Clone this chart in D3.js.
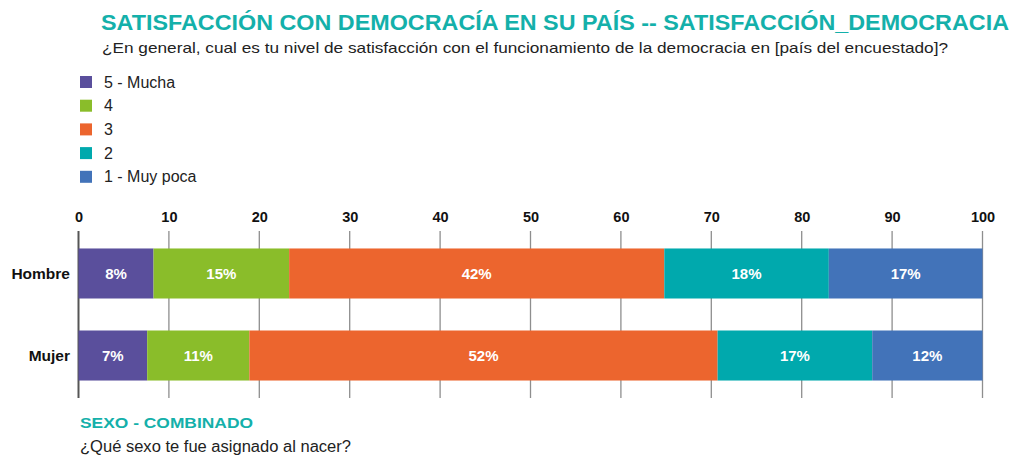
<!DOCTYPE html>
<html><head><meta charset="utf-8">
<script src="https://cdn.jsdelivr.net/npm/d3@7"></script>
<style>body{margin:0;background:#fff}svg{display:block}</style>
</head><body>
<svg id="c" width="1013" height="455"></svg>
<script>
const categories = ["Hombre", "Mujer"];
const seriesNames = ["5 - Mucha", "4", "3", "2", "1 - Muy poca"];
const seriesColors = ["#5a4f9c", "#8abd2a", "#ec652e", "#00a9ad", "#4273b9"];
const values = {
  "Hombre": [8.3, 15.0, 41.5, 18.2, 17.0],
  "Mujer":  [7.6, 11.3, 51.8, 17.1, 12.2]
};
const labels = {
  "Hombre": ["8%", "15%", "42%", "18%", "17%"],
  "Mujer":  ["7%", "11%", "52%", "17%", "12%"]
};
const xTicks = [0, 10, 20, 30, 40, 50, 60, 70, 80, 90, 100];
const titleText = "SATISFACCIÓN CON DEMOCRACÍA EN SU PAÍS -- SATISFACCIÓN_DEMOCRACIA";
const subtitleText = "¿En general, cual es tu nivel de satisfacción con el funcionamiento de la democracia en [país del encuestado]?";
const footTitle = "SEXO - COMBINADO";
const footText = "¿Qué sexo te fue asignado al nacer?";

const svg = d3.select("#c");
const font = "'Liberation Sans', Arial, sans-serif";
const teal = "#14b0aa";

svg.append("text").attr("x", 101).attr("y", 30).attr("font-family", font).attr("font-weight", "bold")
  .attr("font-size", 21.5).attr("fill", teal).attr("textLength", 908).attr("lengthAdjust", "spacingAndGlyphs")
  .text(titleText);
svg.append("text").attr("x", 102).attr("y", 53).attr("font-family", font)
  .attr("font-size", 15).attr("fill", "#222").attr("textLength", 846).attr("lengthAdjust", "spacingAndGlyphs")
  .text(subtitleText);

// legend
const lg = svg.append("g");
seriesNames.forEach((n, i) => {
  const cy = 82 + i * 23.7;
  lg.append("rect").attr("x", 80).attr("y", cy - 6).attr("width", 12).attr("height", 12).attr("fill", seriesColors[i]);
  lg.append("text").attr("x", 104).attr("y", cy + 5.5).attr("font-family", font).attr("font-size", 16)
    .attr("fill", "#222").text(n);
});

const x = d3.scaleLinear().domain([0, 100]).range([78.5, 982.5]);
const y = d3.scaleBand().domain(categories).range([231, 398]).paddingInner(0.39).paddingOuter(0.213);

// grid
const gTop = 231, gBot = 398;
svg.append("g").selectAll("line").data(xTicks).join("line")
  .attr("x1", d => x(d)).attr("x2", d => x(d)).attr("y1", gTop).attr("y2", gBot)
  .attr("stroke", d => d === 0 ? "#555" : "#8e8e8e").attr("stroke-width", d => d === 0 ? 2 : 1.3);

// axis top
const ax = svg.append("g").attr("transform", `translate(0,${gTop})`)
  .call(d3.axisTop(x).tickValues(xTicks).tickSize(0).tickPadding(9));
ax.select(".domain").remove();
ax.selectAll("text").attr("font-family", font).attr("font-weight", "bold").attr("font-size", 14.5).attr("fill", "#111");

// bars
categories.forEach(cat => {
  let acc = 0;
  const g = svg.append("g");
  values[cat].forEach((v, i) => {
    const x0 = x(acc), x1 = x(acc + v);
    g.append("rect").attr("x", x0).attr("y", y(cat)).attr("width", x1 - x0).attr("height", y.bandwidth())
      .attr("fill", seriesColors[i]);
    g.append("text").attr("x", (x0 + x1) / 2).attr("y", y(cat) + y.bandwidth() / 2 + 5.5)
      .attr("text-anchor", "middle").attr("font-family", font).attr("font-weight", "bold")
      .attr("font-size", 15).attr("fill", "#fff").text(labels[cat][i]);
    acc += v;
  });
  svg.append("text").attr("x", 70).attr("y", y(cat) + y.bandwidth() / 2 + 5.5).attr("text-anchor", "end")
    .attr("font-family", font).attr("font-weight", "bold").attr("font-size", 15.5).attr("fill", "#111").text(cat);
});

svg.append("text").attr("x", 80).attr("y", 428).attr("font-family", font).attr("font-weight", "bold")
  .attr("font-size", 15).attr("fill", teal).attr("textLength", 173).attr("lengthAdjust", "spacingAndGlyphs").text(footTitle);
svg.append("text").attr("x", 80).attr("y", 452).attr("font-family", font)
  .attr("font-size", 16).attr("fill", "#222").attr("textLength", 271).attr("lengthAdjust", "spacingAndGlyphs").text(footText);
</script>
</body></html>
